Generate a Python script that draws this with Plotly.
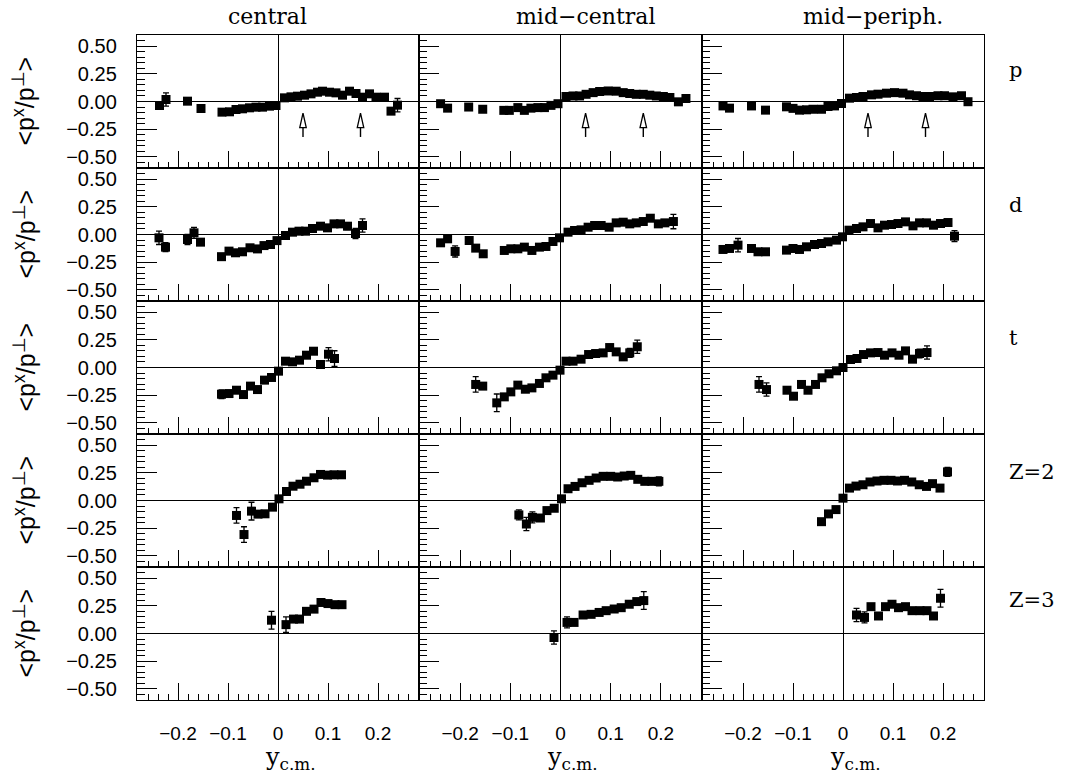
import plotly.graph_objects as go

# ---------------- data ----------------
columns = ["central", "mid\u2212central", "mid\u2212periph."]
rows = ["p", "d", "t", "Z=2", "Z=3"]
arrow_x = [0.05, 0.165]
y_ticks = [-0.5, -0.25, 0.0, 0.25, 0.5]
x_ticks = [-0.2, -0.1, 0.0, 0.1, 0.2]
x_tick_text = ["\u22120.2", "\u22120.1", "0", "0.1", "0.2"]

p_central_x = [-0.237, -0.224, -0.181, -0.154, -0.112, -0.097, -0.084, -0.071, -0.057, -0.044, -0.031, -0.017, -0.004,
               0.013, 0.026, 0.039, 0.053, 0.066, 0.079, 0.089, 0.103, 0.116, 0.129, 0.143, 0.156, 0.169, 0.183, 0.196, 0.213, 0.226, 0.239]
p_central_y = [-0.036, 0.018, 0.003, -0.063, -0.096, -0.093, -0.072, -0.066, -0.057, -0.051, -0.051, -0.042, -0.036,
               0.033, 0.042, 0.048, 0.057, 0.069, 0.084, 0.093, 0.084, 0.078, 0.057, 0.093, 0.072, 0.039, 0.069, 0.039, 0.039, -0.087, -0.033]
p_central_e = [0, 0.06, 0, 0, 0, 0, 0, 0, 0, 0, 0, 0, 0,
               0, 0, 0, 0, 0, 0, 0, 0, 0, 0, 0, 0, 0, 0, 0, 0, 0.02, 0.06]

p_midc_x = [-0.239, -0.225, -0.183, -0.155, -0.113, -0.102, -0.085, -0.072, -0.059, -0.045, -0.032, -0.019, -0.005,
            0.011, 0.025, 0.038, 0.051, 0.065, 0.078, 0.095, 0.111, 0.125, 0.138, 0.151, 0.165, 0.178, 0.191, 0.205, 0.218, 0.235, 0.25]
p_midc_y = [-0.02, -0.06, -0.05, -0.07, -0.08, -0.08, -0.055, -0.08, -0.06, -0.055, -0.055, -0.035, -0.02,
            0.045, 0.05, 0.05, 0.065, 0.08, 0.09, 0.095, 0.093, 0.08, 0.072, 0.065, 0.065, 0.057, 0.05, 0.045, 0.036, -0.003, 0.027]
p_midc_e = [0] * 31

p_midp_x = [-0.24, -0.227, -0.183, -0.155, -0.113, -0.1, -0.087, -0.073, -0.06, -0.043, -0.03, -0.017, -0.003,
            0.013, 0.027, 0.04, 0.057, 0.07, 0.087, 0.103, 0.12, 0.133, 0.147, 0.16, 0.173, 0.19, 0.203, 0.22, 0.237, 0.25]
p_midp_y = [-0.04, -0.06, -0.04, -0.078, -0.048, -0.062, -0.078, -0.075, -0.07, -0.07, -0.045, -0.04, -0.018,
            0.03, 0.036, 0.045, 0.06, 0.066, 0.075, 0.08, 0.075, 0.06, 0.052, 0.045, 0.045, 0.052, 0.052, 0.042, 0.052, -0.002]
p_midp_e = [0] * 30

d_central_x = [-0.238, -0.225, -0.181, -0.168, -0.155, -0.113, -0.098, -0.085, -0.071, -0.056, -0.041, -0.028, -0.015, -0.002,
               0.015, 0.029, 0.042, 0.055, 0.069, 0.085, 0.099, 0.112, 0.125, 0.139, 0.155, 0.169]
d_central_y = [-0.03, -0.114, -0.045, 0.015, -0.069, -0.2, -0.15, -0.165, -0.156, -0.12, -0.13, -0.1, -0.09, -0.055,
               -0.009, 0.021, 0.03, 0.03, 0.054, 0.075, 0.06, 0.096, 0.096, 0.075, 0.009, 0.081]
d_central_e = [0.06, 0.04, 0.045, 0.05, 0, 0, 0, 0, 0, 0, 0, 0, 0, 0,
               0, 0, 0, 0, 0, 0, 0, 0, 0, 0.03, 0.045, 0.06]

d_midc_x = [-0.239, -0.225, -0.21, -0.182, -0.169, -0.154, -0.112, -0.099, -0.085, -0.072, -0.057, -0.042, -0.029, -0.015, -0.002,
            0.015, 0.028, 0.041, 0.055, 0.068, 0.081, 0.097, 0.111, 0.125, 0.138, 0.151, 0.165, 0.179, 0.195, 0.208, 0.225]
d_midc_y = [-0.075, -0.039, -0.153, -0.054, -0.123, -0.174, -0.144, -0.129, -0.129, -0.114, -0.144, -0.114, -0.108, -0.063, -0.03,
            0.021, 0.036, 0.042, 0.066, 0.081, 0.081, 0.066, 0.105, 0.111, 0.096, 0.105, 0.117, 0.147, 0.096, 0.105, 0.117]
d_midc_e = [0, 0, 0.05, 0, 0, 0, 0, 0, 0, 0, 0, 0, 0, 0, 0,
            0, 0, 0, 0, 0, 0, 0, 0, 0, 0, 0, 0, 0, 0, 0, 0.065]

d_midp_x = [-0.24, -0.227, -0.21, -0.183, -0.17, -0.155, -0.113, -0.1, -0.087, -0.073, -0.057, -0.043, -0.03, -0.013, -0.001,
            0.012, 0.027, 0.04, 0.055, 0.07, 0.083, 0.097, 0.11, 0.125, 0.14, 0.153, 0.167, 0.181, 0.195, 0.21, 0.223]
d_midp_y = [-0.135, -0.126, -0.096, -0.126, -0.156, -0.156, -0.141, -0.126, -0.135, -0.111, -0.09, -0.081, -0.066, -0.051, -0.021,
            0.039, 0.054, 0.069, 0.099, 0.06, 0.084, 0.09, 0.099, 0.114, 0.078, 0.105, 0.105, 0.084, 0.099, 0.108, -0.015]
d_midp_e = [0, 0, 0.06, 0, 0, 0, 0, 0, 0, 0, 0, 0, 0, 0, 0,
            0, 0, 0, 0, 0, 0, 0, 0, 0, 0, 0, 0, 0, 0, 0, 0.05]

t_central_x = [-0.113, -0.098, -0.083, -0.069, -0.055, -0.041, -0.027, -0.013, 0.001,
               0.015, 0.029, 0.043, 0.057, 0.071, 0.085, 0.101, 0.113]
t_central_y = [-0.241, -0.235, -0.205, -0.244, -0.168, -0.199, -0.114, -0.09, -0.033,
               0.057, 0.051, 0.066, 0.111, 0.147, 0.027, 0.12, 0.081]
t_central_e = [0.04, 0, 0, 0, 0, 0, 0, 0, 0,
               0, 0, 0, 0, 0, 0.03, 0.06, 0.07]

t_midc_x = [-0.169, -0.155, -0.127, -0.112, -0.099, -0.085, -0.07, -0.057, -0.042, -0.029, -0.015, -0.001,
            0.011, 0.025, 0.041, 0.056, 0.07, 0.085, 0.098, 0.111, 0.125, 0.138, 0.153]
t_midc_y = [-0.153, -0.168, -0.319, -0.265, -0.22, -0.159, -0.196, -0.184, -0.144, -0.093, -0.069, -0.024,
            0.057, 0.057, 0.075, 0.117, 0.126, 0.132, 0.18, 0.141, 0.096, 0.132, 0.187]
t_midc_e = [0.07, 0.03, 0.08, 0, 0, 0, 0, 0, 0, 0, 0, 0,
            0, 0, 0, 0, 0, 0, 0, 0, 0, 0.04, 0.06]

t_midp_x = [-0.168, -0.153, -0.112, -0.099, -0.083, -0.07, -0.055, -0.042, -0.028, -0.013, 0.0,
            0.015, 0.028, 0.041, 0.055, 0.07, 0.083, 0.098, 0.112, 0.125, 0.139, 0.153, 0.168]
t_midp_y = [-0.153, -0.199, -0.205, -0.259, -0.153, -0.205, -0.153, -0.093, -0.057, -0.03, 0.0,
            0.072, 0.081, 0.117, 0.132, 0.135, 0.111, 0.132, 0.111, 0.15, 0.075, 0.126, 0.135]
t_midp_e = [0.07, 0.06, 0, 0, 0, 0, 0, 0, 0, 0, 0,
            0, 0, 0, 0, 0, 0, 0, 0, 0, 0, 0.04, 0.06]

z2_central_x = [-0.083, -0.068, -0.053, -0.04, -0.026, -0.011, 0.002,
                0.017, 0.03, 0.044, 0.057, 0.072, 0.085, 0.099, 0.112, 0.127]
z2_central_y = [-0.135, -0.307, -0.096, -0.123, -0.12, -0.06, 0.015,
                0.081, 0.129, 0.147, 0.174, 0.205, 0.235, 0.229, 0.232, 0.232]
z2_central_e = [0.07, 0.07, 0.08, 0, 0, 0, 0,
                0, 0, 0, 0, 0, 0, 0, 0, 0]

z2_midc_x = [-0.083, -0.068, -0.056, -0.04, -0.027, -0.0125, 0.002,
             0.015, 0.029, 0.043, 0.057, 0.071, 0.085, 0.1, 0.114, 0.127, 0.14, 0.154, 0.168, 0.182, 0.196]
z2_midc_y = [-0.13, -0.212, -0.152, -0.158, -0.091, -0.07, 0.015,
             0.106, 0.127, 0.16, 0.182, 0.203, 0.218, 0.218, 0.212, 0.221, 0.227, 0.191, 0.173, 0.173, 0.173]
z2_midc_e = [0.045, 0.06, 0.05, 0, 0, 0, 0,
             0, 0, 0, 0, 0, 0, 0, 0, 0, 0, 0, 0, 0, 0.04]

z2_midp_x = [-0.043, -0.029, -0.014, 0.0,
             0.013, 0.026, 0.04, 0.054, 0.068, 0.082, 0.096, 0.109, 0.123, 0.1375, 0.1525, 0.167, 0.179, 0.194, 0.209]
z2_midp_y = [-0.191, -0.121, -0.082, 0.021,
             0.112, 0.13, 0.142, 0.167, 0.176, 0.182, 0.182, 0.176, 0.182, 0.167, 0.142, 0.127, 0.152, 0.112, 0.258]
z2_midp_e = [0, 0, 0, 0,
             0, 0, 0, 0, 0, 0, 0, 0, 0, 0, 0, 0, 0, 0, 0.04]

z3_central_x = [-0.013, 0.016, 0.031, 0.043, 0.057, 0.072, 0.086, 0.1, 0.114, 0.128]
z3_central_y = [0.12, 0.08, 0.13, 0.13, 0.2, 0.22, 0.28, 0.27, 0.26, 0.26]
z3_central_e = [0.08, 0.07, 0, 0, 0, 0, 0, 0, 0, 0]

z3_midc_x = [-0.013, 0.013, 0.027, 0.045, 0.061, 0.077, 0.091, 0.107, 0.121, 0.137, 0.152, 0.166]
z3_midc_y = [-0.036, 0.1, 0.1, 0.167, 0.173, 0.19, 0.206, 0.221, 0.233, 0.264, 0.288, 0.297]
z3_midc_e = [0.06, 0.05, 0, 0, 0, 0, 0, 0, 0, 0, 0, 0.08]

z3_midp_x = [0.027, 0.043, 0.056, 0.071, 0.085, 0.098, 0.111, 0.125, 0.138, 0.154, 0.168, 0.181, 0.195]
z3_midp_y = [0.167, 0.145, 0.242, 0.158, 0.242, 0.264, 0.233, 0.242, 0.206, 0.206, 0.206, 0.158, 0.318]
z3_midp_e = [0.06, 0.05, 0, 0, 0, 0, 0, 0, 0, 0, 0, 0, 0.08]

panels = [
    [(p_central_x, p_central_y, p_central_e), (p_midc_x, p_midc_y, p_midc_e), (p_midp_x, p_midp_y, p_midp_e)],
    [(d_central_x, d_central_y, d_central_e), (d_midc_x, d_midc_y, d_midc_e), (d_midp_x, d_midp_y, d_midp_e)],
    [(t_central_x, t_central_y, t_central_e), (t_midc_x, t_midc_y, t_midc_e), (t_midp_x, t_midp_y, t_midp_e)],
    [(z2_central_x, z2_central_y, z2_central_e), (z2_midc_x, z2_midc_y, z2_midc_e), (z2_midp_x, z2_midp_y, z2_midp_e)],
    [(z3_central_x, z3_central_y, z3_central_e), (z3_midc_x, z3_midc_y, z3_midc_e), (z3_midp_x, z3_midp_y, z3_midp_e)],
]

# ---------------- layout geometry ----------------
W, H = 1066, 773
col_l = [137, 419, 702]
col_r = [419, 702, 984]
row_t = [35, 168, 301, 434, 567]
row_b = [168, 301, 434, 567, 700]
XR = [-0.282, 0.282]
YR = [-0.6, 0.6]

def px(x):
    return x / W

def py(y):
    return 1 - y / H

fig = go.Figure()
layout = dict(width=W, height=H, margin=dict(l=0, r=0, t=0, b=0),
              paper_bgcolor="white", plot_bgcolor="white", showlegend=False)
shapes = []
annotations = []

tickfont_y = dict(family="Liberation Sans, Arial, sans-serif", size=20, color="black")
tickfont_x = dict(family="Liberation Sans, Arial, sans-serif", size=19, color="black")

for r in range(5):
    for c in range(3):
        n = r * 3 + c + 1
        xa = "x" if n == 1 else f"x{n}"
        ya = "y" if n == 1 else f"y{n}"
        xkey = "xaxis" if n == 1 else f"xaxis{n}"
        ykey = "yaxis" if n == 1 else f"yaxis{n}"
        xs, ys, es = panels[r][c]
        fig.add_trace(go.Scatter(
            x=xs, y=ys, xaxis=xa, yaxis=ya, mode="markers",
            marker=dict(symbol="square", size=9, color="black", line=dict(width=0)),
            error_y=dict(type="data", array=es, visible=True, color="black", thickness=1.3, width=3),
            hoverinfo="skip"))
        layout[xkey] = dict(
            domain=[px(col_l[c]), px(col_r[c])], anchor=ya, range=XR, fixedrange=True,
            showline=True, mirror=True, linecolor="black", linewidth=1.4,
            zeroline=True, zerolinecolor="black", zerolinewidth=1.2,
            showgrid=False, ticks="inside", ticklen=17, tickwidth=1.3, tickcolor="black",
            tickmode="array", tickvals=x_ticks, ticktext=x_tick_text,
            minor=dict(tickmode="linear", tick0=0, dtick=0.02, ticks="inside", ticklen=6,
                       tickwidth=1.2, tickcolor="black", showgrid=False),
            showticklabels=(r == 4), tickfont=tickfont_x, ticklabelstandoff=16)
        layout[ykey] = dict(
            domain=[py(row_b[r]), py(row_t[r])], anchor=xa, range=YR, fixedrange=True,
            showline=True, mirror=True, linecolor="black", linewidth=1.4,
            zeroline=True, zerolinecolor="black", zerolinewidth=1.2,
            showgrid=False, ticks="inside", ticklen=20, tickwidth=1.3, tickcolor="black",
            tickmode="array", tickvals=y_ticks, tickformat=".2f",
            minor=dict(tickmode="linear", tick0=0, dtick=0.05, ticks="inside", ticklen=8,
                       tickwidth=1.2, tickcolor="black", showgrid=False),
            showticklabels=(c == 0), tickfont=tickfont_y, ticklabelstandoff=15)
        # arrows in the proton row
        if r == 0:
            for ax_ in arrow_x:
                shapes.append(dict(type="line", xref=xa, yref=ya, x0=ax_, x1=ax_, y0=-0.32, y1=-0.235,
                                   line=dict(color="black", width=1.4)))
                shapes.append(dict(type="path", xref=xa, yref=ya,
                                   path=f"M {ax_-0.0065},-0.235 L {ax_},-0.105 L {ax_+0.0065},-0.235 Z",
                                   fillcolor="white", line=dict(color="black", width=1.3)))

# column titles
title_cx = [267, 585, 873]
for c in range(3):
    annotations.append(dict(text=columns[c], x=px(title_cx[c]), y=py(16), xref="paper", yref="paper",
                            showarrow=False, xanchor="center", yanchor="middle",
                            font=dict(family="DejaVu Serif, serif", size=22, color="black")))
# row labels
row_label_y = [70, 205, 338, 472, 600]
for r in range(5):
    annotations.append(dict(text=rows[r], x=px(1007), y=py(row_label_y[r]), xref="paper", yref="paper",
                            showarrow=False, xanchor="left", yanchor="middle",
                            font=dict(family="DejaVu Serif, serif", size=21, color="black")))
    annotations.append(dict(text="&lt;p<sup>x</sup>/p<sup>\u22a5</sup>&gt;",
                            x=px(24), y=py((row_t[r] + row_b[r]) / 2), xref="paper", yref="paper",
                            showarrow=False, xanchor="center", yanchor="middle", textangle=-90,
                            font=dict(family="Liberation Sans, Arial, sans-serif", size=25, color="black")))
# x axis titles
for c in range(3):
    cx = (col_l[c] + col_r[c]) / 2 + 12
    annotations.append(dict(text="y<sub>c.m.</sub>", x=px(cx), y=py(758), xref="paper", yref="paper",
                            showarrow=False, xanchor="center", yanchor="middle",
                            font=dict(family="DejaVu Serif, serif", size=24, color="black")))

layout["shapes"] = shapes
layout["annotations"] = annotations
fig.update_layout(**layout)
fig.write_html("out.html")
